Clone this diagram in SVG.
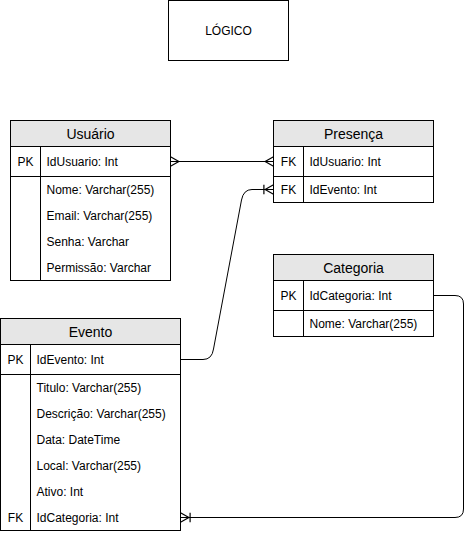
<svg xmlns="http://www.w3.org/2000/svg" width="472" height="533" viewBox="0 0 472 533">
<style>
.box{fill:#fff;stroke:#000;stroke-width:1}
.hdr{fill:#e6e6e6;stroke:#000;stroke-width:1}
.ln{fill:none;stroke:#000;stroke-width:1}
text{font-family:"Liberation Sans",Arial,sans-serif;fill:#000}
.t{font-size:14px;text-anchor:middle}
.r{font-size:12px}
.k{font-size:12px;text-anchor:middle}
.edge{fill:none;stroke:#000;stroke-width:1}
</style>
<defs>
<marker id="many" markerUnits="userSpaceOnUse" markerWidth="12" markerHeight="12" viewBox="0 0 10 10" refX="9" refY="5" orient="auto-start-reverse" overflow="visible">
<path d="M2,5 L9,1 M2,5 L9,9" fill="none" stroke="#000" stroke-width="1"/>
</marker>
<marker id="oneMany" markerUnits="userSpaceOnUse" markerWidth="12" markerHeight="12" viewBox="0 0 10 10" refX="9" refY="5" orient="auto-start-reverse" overflow="visible">
<path d="M2,5 L9,1 M2,5 L9,9 M1,1 V9" fill="none" stroke="#000" stroke-width="1"/>
</marker>
</defs>

<g id="logico">
<rect class="box" x="168.5" y="0.5" width="120" height="60"/>
<text class="r" x="228.5" y="35" text-anchor="middle">LÓGICO</text>
</g>

<g id="usuario">
<rect class="box" x="10.5" y="120.5" width="160" height="160"/>
<rect class="hdr" x="10.5" y="120.5" width="160" height="26"/>
<text class="t" x="90.5" y="138.5">Usuário</text>
<path class="ln" d="M10.5,176.5 H170.5 M40.5,146.5 V280.5"/>
<text class="k" x="25.5" y="165.5">PK</text>
<text class="r" x="46.5" y="165.5">IdUsuario: Int</text>
<text class="r" x="46.5" y="193.5">Nome: Varchar(255)</text>
<text class="r" x="46.5" y="219.5">Email: Varchar(255)</text>
<text class="r" x="46.5" y="245.5">Senha: Varchar</text>
<text class="r" x="46.5" y="271.5">Permissão: Varchar</text>
</g>

<g id="presenca">
<rect class="box" x="273.5" y="120.5" width="160" height="82"/>
<rect class="hdr" x="273.5" y="120.5" width="160" height="26"/>
<text class="t" x="353.5" y="138.5">Presença</text>
<path class="ln" d="M273.5,176.5 H433.5 M303.5,146.5 V202.5"/>
<text class="k" x="288.5" y="165.5">FK</text>
<text class="r" x="309.5" y="165.5">IdUsuario: Int</text>
<text class="k" x="288.5" y="193.5">FK</text>
<text class="r" x="309.5" y="193.5">IdEvento: Int</text>
</g>

<g id="categoria">
<rect class="box" x="273.5" y="254.5" width="160" height="82"/>
<rect class="hdr" x="273.5" y="254.5" width="160" height="26"/>
<text class="t" x="353.5" y="272.5">Categoria</text>
<path class="ln" d="M273.5,310.5 H433.5 M303.5,280.5 V336.5"/>
<text class="k" x="288.5" y="299.5">PK</text>
<text class="r" x="309.5" y="299.5">IdCategoria: Int</text>
<text class="r" x="309.5" y="327.5">Nome: Varchar(255)</text>
</g>

<g id="evento">
<rect class="box" x="0.5" y="318.5" width="180" height="212"/>
<rect class="hdr" x="0.5" y="318.5" width="180" height="26"/>
<text class="t" x="90.5" y="336.5">Evento</text>
<path class="ln" d="M0.5,374.5 H180.5 M30.5,344.5 V530.5"/>
<text class="k" x="15.5" y="363.5">PK</text>
<text class="r" x="36.5" y="363.5">IdEvento: Int</text>
<text class="r" x="36.5" y="391.5">Titulo: Varchar(255)</text>
<text class="r" x="36.5" y="417.5">Descrição: Varchar(255)</text>
<text class="r" x="36.5" y="443.5">Data: DateTime</text>
<text class="r" x="36.5" y="469.5">Local: Varchar(255)</text>
<text class="r" x="36.5" y="495.5">Ativo: Int</text>
<text class="k" x="15.5" y="521.5">FK</text>
<text class="r" x="36.5" y="521.5">IdCategoria: Int</text>
</g>

<g id="connectors">
<path class="edge" d="M170.5,161.5 H273.5" marker-start="url(#many)" marker-end="url(#many)"/>
<path class="edge" d="M180.5,359.5 H203 Q212,359.5 213.5,349 L241.5,200 Q243.5,189.5 252,189.5 H273.5" marker-end="url(#oneMany)"/>
<path class="edge" d="M433.5,295.5 H455 Q463.5,295.5 463.5,304 V509 Q463.5,517.5 455,517.5 H180.5" marker-end="url(#oneMany)"/>
</g>
</svg>
